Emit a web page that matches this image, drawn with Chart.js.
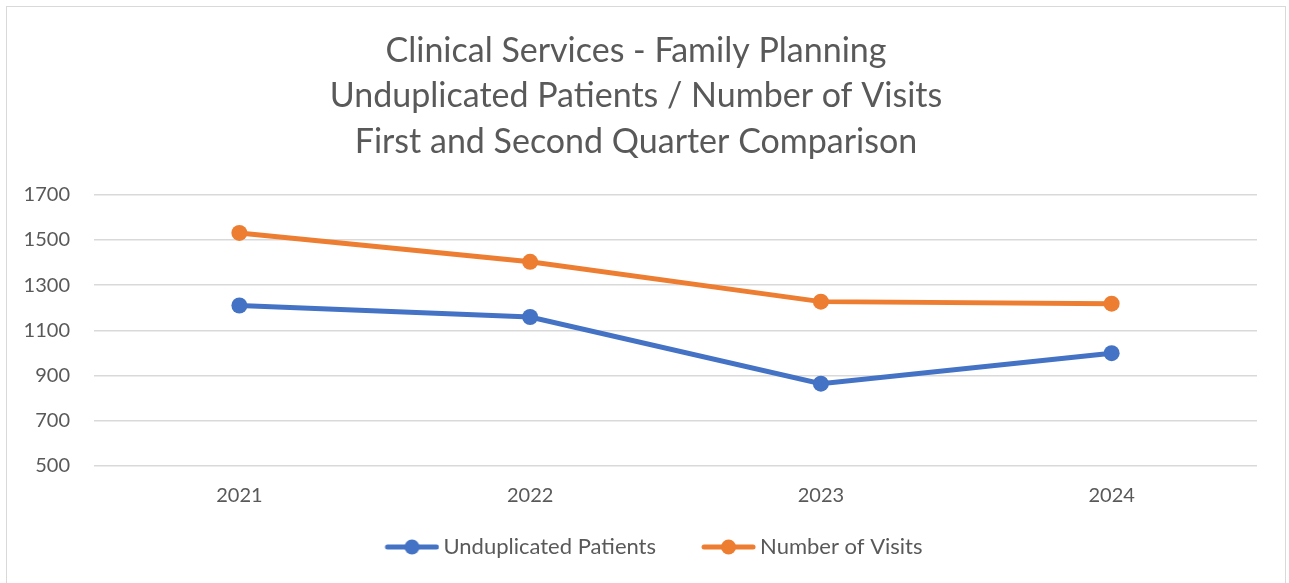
<!DOCTYPE html>
<html>
<head>
<meta charset="utf-8">
<script src="https://cdn.jsdelivr.net/npm/chart.js@4/dist/chart.umd.min.js"></script>
<style>
  html, body { margin: 0; padding: 0; background: #ffffff; }
  #wrap { position: relative; width: 1289px; height: 583px; }
  #frame { position: absolute; left: 6px; top: 6px; width: 1280px; height: 580px; border: 1px solid #d9d9d9; box-sizing: border-box; pointer-events: none; }
  canvas { display: block; }
</style>
</head>
<body>
<div id="wrap">
  <canvas id="c" width="1289" height="583"></canvas>
  <div id="frame"></div>
</div>
<script>
const titleLines = [
  "Clinical Services - Family Planning",
  "Unduplicated Patients / Number of Visits",
  "First and Second Quarter Comparison"
];
const categories = ["2021", "2022", "2023", "2024"];
const seriesNames = ["Unduplicated Patients", "Number of Visits"];
const unduplicatedPatients = [1210, 1159, 864, 999];
const numberOfVisits = [1531, 1403, 1227, 1218];
const yTicks = [500, 700, 900, 1100, 1300, 1500, 1700];
const colors = ["#4472C4", "#ED7D31"];

const FONT = "Lato, 'Open Sans', 'Liberation Sans', sans-serif";
const TEXT = "#595959";

const ICON_BOX = 83;
function legendIcon(color) {
  const cv = document.createElement("canvas");
  cv.width = ICON_BOX + 14; cv.height = 18;
  const g = cv.getContext("2d");
  const x0 = cv.width - 55, x1 = cv.width;
  g.strokeStyle = color; g.lineWidth = 5; g.lineCap = "round";
  g.beginPath(); g.moveTo(x0 + 3, 9); g.lineTo(x1 - 3, 9); g.stroke();
  g.fillStyle = color;
  g.beginPath(); g.arc((x0 + x1) / 2, 9, 7.5, 0, Math.PI * 2); g.fill();
  return cv;
}
const icons = colors.map(legendIcon);

const ctx = document.getElementById("c").getContext("2d");
new Chart(ctx, {
  type: "line",
  data: {
    labels: categories,
    datasets: [
      { label: seriesNames[0], data: unduplicatedPatients, borderColor: colors[0], backgroundColor: colors[0],
        borderWidth: 5, pointRadius: 8, pointHoverRadius: 8, pointBackgroundColor: colors[0], pointBorderWidth: 0, tension: 0 },
      { label: seriesNames[1], data: numberOfVisits, borderColor: colors[1], backgroundColor: colors[1],
        borderWidth: 5, pointRadius: 8, pointHoverRadius: 8, pointBackgroundColor: colors[1], pointBorderWidth: 0, tension: 0 }
    ]
  },
  options: {
    responsive: false,
    animation: false,
    layout: { padding: { left: 15, right: 32, top: 28, bottom: 15 } },
    plugins: {
      title: {
        display: true,
        text: titleLines,
        color: TEXT,
        font: { family: FONT, size: 34, weight: "normal", lineHeight: 1.34 },
        padding: { top: 0, bottom: 30 }
      },
      legend: {
        position: "bottom",
        labels: {
          color: TEXT,
          font: { family: FONT, size: 22 },
          usePointStyle: true,
          pointStyleWidth: ICON_BOX,
          padding: 10,
          generateLabels: (chart) => chart.data.datasets.map((ds, i) => ({
            text: ds.label,
            fillStyle: colors[i],
            strokeStyle: colors[i],
            lineWidth: 0,
            pointStyle: icons[i],
            datasetIndex: i,
            hidden: false,
            fontColor: TEXT
          }))
        }
      },
      tooltip: { enabled: false }
    },
    scales: {
      x: {
        offset: true,
        grid: { display: false, drawTicks: false },
        border: { display: false },
        ticks: { color: TEXT, font: { family: FONT, size: 20 }, padding: 18 }
      },
      y: {
        min: 500,
        max: 1700,
        afterBuildTicks: (axis) => { axis.ticks = yTicks.map(v => ({ value: v })); },
        afterFit: (axis) => { axis.width = 79; },
        grid: { color: "#d9d9d9", lineWidth: 1.5, drawTicks: false },
        border: { display: false },
        ticks: { color: TEXT, font: { family: FONT, size: 20 }, padding: 24, callback: (v) => String(v) }
      }
    }
  }
});
</script>
</body>
</html>
